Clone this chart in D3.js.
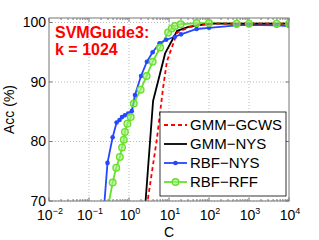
<!DOCTYPE html>
<meta charset="utf-8">
<style>
body { margin: 0; background: #fff; }
.tick-label { font: 14px "Liberation Sans", Arial, sans-serif; fill: #000; }
.legend-text { font: 15px "Liberation Sans", Arial, sans-serif; fill: #000; }
.note { font: bold 16px "Liberation Sans", Arial, sans-serif; fill: #ff0000; }
</style>
<body>
<div id="chart"></div>
<script src="https://cdn.jsdelivr.net/npm/d3@7"></script>
<script>

var width = 319,
  height = 240;
var plotL = 49, plotR = 289, plotT = 18, plotB = 201;

// data
var gcwsC = [2.8, 5.0, 7.1, 8.9, 16, 32, 63, 126, 250, 500, 1000, 2000, 4000, 10000];
var gcwsAcc = [69.2, 80.5, 89.0, 93.5, 98.3, 99.2, 99.6, 99.8, 99.8, 99.8, 99.8, 99.8, 99.8, 99.8];

var gmmNysC = [2.5, 4.0, 8.0, 16, 32, 63, 126, 250, 500, 1000, 2000, 4000, 10000];
var gmmNysAcc = [68.5, 86.8, 94.8, 98.6, 99.3, 99.6, 99.8, 99.8, 99.8, 99.8, 99.8, 99.8, 99.8];

var rbfNysC = [0.22, 0.29, 0.39, 0.49, 0.58, 0.67, 0.79, 0.95, 1.17, 1.41, 2.0, 2.8, 3.9, 5.8, 8.5, 14, 20, 49, 100, 490, 1000, 4900, 10000];
var rbfNysAcc = [66, 76.4, 80.7, 83.2, 83.6, 84.1, 84.4, 84.7, 85.1, 87.8, 91.0, 93.4, 95.0, 96.5, 97.1, 97.6, 98.0, 98.9, 99.1, 99.5, 99.6, 99.5, 99.4];

var rbfRffC = [0.28, 0.39, 0.48, 0.59, 0.67, 0.74, 0.79, 0.91, 1.1, 1.32, 1.95, 2.75, 3.9, 6.0, 9.5, 11.7, 14.1, 19.5, 49, 100, 490, 1000, 4900, 10000];
var rbfRffAcc = [68, 73.1, 75.6, 77.4, 79.0, 80.3, 81.6, 83.0, 84.1, 86.4, 88.7, 91.0, 93.4, 95.8, 98.3, 99.0, 99.4, 99.7, 99.9, 99.9, 99.8, 99.8, 99.8, 99.8];

var xTicks = [1e-2, 1e-1, 1e0, 1e1, 1e2, 1e3, 1e4];
var xTickExp = ["\u22122", "\u22121", "0", "1", "2", "3", "4"];
var yTicks = [70, 80, 90, 100];

var seriesNames = ["GMM\u2212GCWS", "GMM\u2212NYS", "RBF\u2212NYS", "RBF\u2212RFF"];

var x = d3.scaleLog().domain([1e-2, 1e4]).range([plotL, plotR]);
var y = d3.scaleLinear().domain([70, 100.75]).range([plotB, plotT]);

var svg = d3.select("#chart").append("svg")
  .attr("width", width)
  .attr("height", height);

svg.append("defs").append("clipPath")
  .attr("id", "clip")
  .append("rect")
  .attr("x", plotL).attr("y", plotT)
  .attr("width", plotR - plotL).attr("height", plotB - plotT);

// grid
var minor = [];
for (var e = -2; e < 4; e++) {
  for (var m = 2; m < 10; m++) minor.push(m * Math.pow(10, e));
}

svg.append("g").selectAll("line")
  .data(xTicks.slice(1, -1))
  .enter().append("line")
  .attr("x1", function(d) { return x(d); })
  .attr("x2", function(d) { return x(d); })
  .attr("y1", plotT).attr("y2", plotB)
  .attr("stroke", "#bbb")
  .attr("stroke-dasharray", "1,2");

svg.append("g").selectAll("line")
  .data(yTicks)
  .enter().append("line")
  .attr("x1", plotL).attr("x2", plotR)
  .attr("y1", function(d) { return y(d); })
  .attr("y2", function(d) { return y(d); })
  .attr("stroke", "#bbb")
  .attr("stroke-dasharray", "1,2");

// ticks inside the box
var ticks = svg.append("g").attr("stroke", "#777");
ticks.selectAll("line.minb").data(minor).enter().append("line")
  .attr("x1", function(d) { return x(d); }).attr("x2", function(d) { return x(d); })
  .attr("y1", plotB).attr("y2", plotB - 2);
ticks.selectAll("line.mint").data(minor).enter().append("line")
  .attr("x1", function(d) { return x(d); }).attr("x2", function(d) { return x(d); })
  .attr("y1", plotT).attr("y2", plotT + 2);
ticks.selectAll("line.majb").data(xTicks).enter().append("line")
  .attr("x1", function(d) { return x(d); }).attr("x2", function(d) { return x(d); })
  .attr("y1", plotB).attr("y2", plotB - 3.5);
ticks.selectAll("line.majt").data(xTicks).enter().append("line")
  .attr("x1", function(d) { return x(d); }).attr("x2", function(d) { return x(d); })
  .attr("y1", plotT).attr("y2", plotT + 3.5);
ticks.selectAll("line.yl").data(yTicks).enter().append("line")
  .attr("x1", plotL).attr("x2", plotL + 3.5)
  .attr("y1", function(d) { return y(d); }).attr("y2", function(d) { return y(d); });
ticks.selectAll("line.yr").data(yTicks).enter().append("line")
  .attr("x1", plotR).attr("x2", plotR - 3.5)
  .attr("y1", function(d) { return y(d); }).attr("y2", function(d) { return y(d); });

// series
var plot = svg.append("g").attr("clip-path", "url(#clip)");

function zip(cs, accs) {
  return cs.map(function(c, i) { return [c, accs[i]]; });
}

var line = d3.line()
  .x(function(d) { return x(d[0]); })
  .y(function(d) { return y(d[1]); });

var green = "#66e02a", blue = "#2447ff";

plot.append("path")
  .datum(zip(rbfRffC, rbfRffAcc))
  .attr("d", line).attr("fill", "none")
  .attr("stroke", green).attr("stroke-width", 1.8);
plot.append("path")
  .datum(zip(rbfNysC, rbfNysAcc))
  .attr("d", line).attr("fill", "none")
  .attr("stroke", blue).attr("stroke-width", 1.8);
plot.append("path")
  .datum(zip(gmmNysC, gmmNysAcc))
  .attr("d", line).attr("fill", "none")
  .attr("stroke", "#000").attr("stroke-width", 1.8);
plot.append("path")
  .datum(zip(gcwsC, gcwsAcc))
  .attr("d", line).attr("fill", "none")
  .attr("stroke", "#ff0000").attr("stroke-width", 1.8)
  .attr("stroke-dasharray", "4,3");

plot.selectAll("circle.nys")
  .data(zip(rbfNysC, rbfNysAcc))
  .enter().append("circle")
  .attr("cx", function(d) { return x(d[0]); })
  .attr("cy", function(d) { return y(d[1]); })
  .attr("r", 2.3)
  .attr("fill", blue);

plot.selectAll("circle.rff")
  .data(zip(rbfRffC, rbfRffAcc))
  .enter().append("circle")
  .attr("cx", function(d) { return x(d[0]); })
  .attr("cy", function(d) { return y(d[1]); })
  .attr("r", 3.3)
  .attr("fill", "#a6f080")
  .attr("fill-opacity", 0.6)
  .attr("stroke", green)
  .attr("stroke-width", 1.4);

// box
svg.append("rect")
  .attr("x", plotL).attr("y", plotT)
  .attr("width", plotR - plotL).attr("height", plotB - plotT)
  .attr("fill", "none")
  .attr("stroke", "#777");

// tick labels
svg.selectAll("text.ylab")
  .data(yTicks)
  .enter().append("text")
  .attr("class", "tick-label")
  .attr("x", plotL - 3)
  .attr("y", function(d) { return y(d) + 5; })
  .attr("text-anchor", "end")
  .text(function(d) { return d; });

var xl = svg.selectAll("text.xlab")
  .data(xTicks)
  .enter().append("text")
  .attr("class", "tick-label")
  .attr("x", function(d) { return x(d) + 1; })
  .attr("y", 220)
  .attr("text-anchor", "middle");
xl.append("tspan").text("10");
xl.append("tspan")
  .attr("dy", -6)
  .style("font-size", "9px")
  .text(function(d, i) { return xTickExp[i]; });

svg.append("text")
  .attr("class", "tick-label")
  .attr("x", (plotL + plotR) / 2)
  .attr("y", 237)
  .attr("text-anchor", "middle")
  .text("C");

svg.append("text")
  .attr("class", "tick-label")
  .attr("transform", "translate(14," + ((plotT + plotB) / 2) + ") rotate(-90)")
  .attr("text-anchor", "middle")
  .text("Acc (%)");

svg.append("text").attr("class", "note")
  .attr("x", 55).attr("y", 38).text("SVMGuide3:");
svg.append("text").attr("class", "note")
  .attr("x", 55).attr("y", 55).text("k = 1024");

// legend
var lg = svg.append("g");
lg.append("rect")
  .attr("x", 160).attr("y", 112)
  .attr("width", 126).attr("height", 84)
  .attr("fill", "#fff")
  .attr("stroke", "#000")
  .attr("stroke-width", 0.8);

var legendStyles = [
  { color: "#ff0000", dash: "4,3", marker: null },
  { color: "#000", dash: null, marker: null },
  { color: blue, dash: null, marker: "dot" },
  { color: green, dash: null, marker: "ring" }
];

var items = lg.selectAll("g.item")
  .data(seriesNames)
  .enter().append("g")
  .attr("transform", function(d, i) { return "translate(0," + (125 + i * 19) + ")"; });

items.append("line")
  .attr("x1", 164).attr("x2", 187)
  .attr("y1", 0).attr("y2", 0)
  .attr("stroke", function(d, i) { return legendStyles[i].color; })
  .attr("stroke-width", 1.8)
  .attr("stroke-dasharray", function(d, i) { return legendStyles[i].dash; });

items.filter(function(d, i) { return legendStyles[i].marker === "dot"; })
  .append("circle").attr("cx", 175.5).attr("cy", 0).attr("r", 2.3).attr("fill", blue);
items.filter(function(d, i) { return legendStyles[i].marker === "ring"; })
  .append("circle").attr("cx", 175.5).attr("cy", 0).attr("r", 3.3)
  .attr("fill", "#a6f080").attr("fill-opacity", 0.6)
  .attr("stroke", green).attr("stroke-width", 1.4);

items.append("text")
  .attr("class", "legend-text")
  .attr("x", 190)
  .attr("y", 5)
  .text(function(d) { return d; });

</script>
</body>
